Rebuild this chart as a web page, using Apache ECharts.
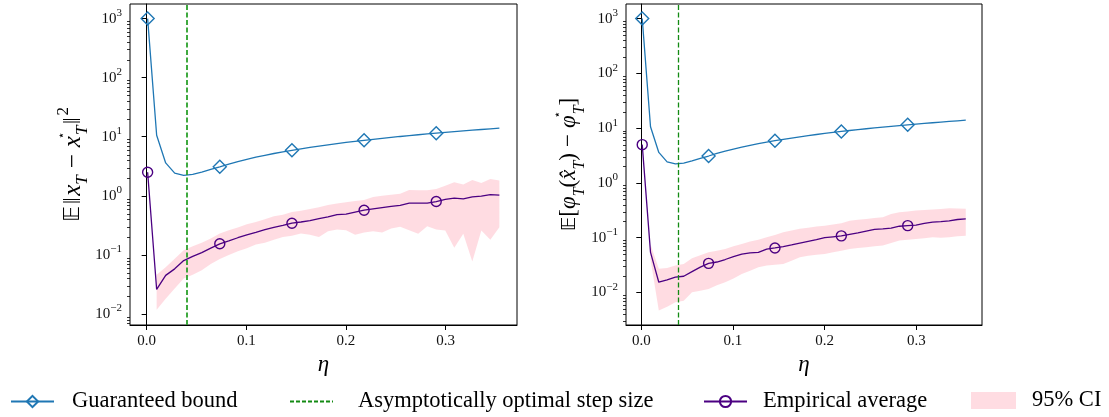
<!DOCTYPE html>
<html><head><meta charset="utf-8">
<script src="https://cdn.jsdelivr.net/npm/echarts@6/dist/echarts.min.js"></script>
<style>html,body{margin:0;padding:0;background:#fff}#c{width:1109px;height:417px}</style>
</head><body><div id="c"></div><script>
// ---- data ----
const eta = [0.001, 0.01005, 0.0191, 0.02815, 0.0372, 0.04626, 0.05531, 0.06436, 0.07341, 0.08246,
  0.09151, 0.10056, 0.10962, 0.11867, 0.12772, 0.13677, 0.14582, 0.15487, 0.16392, 0.17297,
  0.18203, 0.19108, 0.20013, 0.20918, 0.21823, 0.22728, 0.23633, 0.24538, 0.25444, 0.26349,
  0.27254, 0.28159, 0.29064, 0.29969, 0.30874, 0.31779, 0.32685, 0.3359, 0.34495, 0.354];
const boundVals = [1000, 10.6, 3.6, 2.42, 2.22, 2.3, 2.52, 2.8, 3.1, 3.45,
  3.8, 4.15, 4.5, 4.85, 5.2, 5.55, 5.9, 6.25, 6.6, 6.95,
  7.3, 7.65, 8.0, 8.35, 8.7, 9.05, 9.4, 9.75, 10.1, 10.45,
  10.8, 11.15, 11.5, 11.85, 12.2, 12.55, 12.9, 13.25, 13.6, 13.95];
const empLeft = [2.5, 0.026, 0.045, 0.058, 0.080, 0.094, 0.109, 0.130, 0.154, 0.172,
  0.195, 0.218, 0.240, 0.268, 0.292, 0.315, 0.344, 0.36, 0.38, 0.41,
  0.44, 0.48, 0.49, 0.53, 0.571, 0.60, 0.63, 0.66, 0.69, 0.75,
  0.75, 0.75, 0.80, 0.87, 0.91, 0.89, 0.96, 0.99, 1.05, 1.03];
const ciHighLeft = [null, 0.046, 0.062, 0.086, 0.12, 0.14, 0.16, 0.19, 0.23, 0.26,
  0.29, 0.33, 0.36, 0.40, 0.45, 0.48, 0.53, 0.56, 0.60, 0.64,
  0.70, 0.74, 0.78, 0.82, 0.85, 0.95, 1.0, 1.04, 1.08, 1.26,
  1.24, 1.24, 1.31, 1.48, 1.70, 1.55, 1.86, 1.65, 1.93, 1.81];
const ciLowLeft = [null, 0.0118, 0.018, 0.027, 0.040, 0.046, 0.055, 0.070, 0.085, 0.10,
  0.115, 0.13, 0.15, 0.16, 0.18, 0.20, 0.21, 0.23, 0.22, 0.20,
  0.25, 0.27, 0.26, 0.22, 0.24, 0.25, 0.24, 0.28, 0.30, 0.26,
  0.227, 0.306, 0.27, 0.258, 0.132, 0.227, 0.077, 0.258, 0.18, 0.294];
const empRight = [5.0, 0.054, 0.0154, 0.017, 0.019, 0.0198, 0.024, 0.029, 0.034, 0.036,
  0.040, 0.045, 0.050, 0.053, 0.054, 0.062, 0.065, 0.069, 0.074, 0.080,
  0.086, 0.092, 0.100, 0.104, 0.108, 0.115, 0.122, 0.132, 0.142, 0.145,
  0.150, 0.162, 0.166, 0.170, 0.183, 0.193, 0.197, 0.203, 0.215, 0.220];
const ciHighRight = [null, 0.075, 0.027, 0.028, 0.031, 0.033, 0.042, 0.048, 0.054, 0.058,
  0.0625, 0.07, 0.077, 0.085, 0.092, 0.102, 0.112, 0.126, 0.135, 0.145,
  0.152, 0.16, 0.166, 0.175, 0.184, 0.205, 0.212, 0.22, 0.228, 0.237,
  0.27, 0.292, 0.30, 0.313, 0.32, 0.326, 0.335, 0.345, 0.34, 0.336];
const ciLowRight = [null, 0.04, 0.0047, 0.0055, 0.0066, 0.0071, 0.0101, 0.0108, 0.0116, 0.0135,
  0.0154, 0.018, 0.0218, 0.025, 0.029, 0.031, 0.032, 0.033, 0.038, 0.044,
  0.047, 0.049, 0.0506, 0.054, 0.058, 0.0625, 0.065, 0.067, 0.07, 0.072,
  0.08, 0.0885, 0.092, 0.095, 0.098, 0.102, 0.10, 0.102, 0.106, 0.109];
const etaOpt = 0.0374;
const xTicks = [0, 0.1, 0.2, 0.3];
const yTickExps = [-2, -1, 0, 1, 2, 3];
const MARK_EVERY = 8;
const names = ['Guaranteed bound', 'Asymptotically optimal step size', 'Empirical average', '95% CI'];

// ---- style ----
const BLUE = '#1f77b4', PURPLE = '#4b0082', PINK = 'rgba(255,192,203,0.55)', GREEN = '#2ca02c';
const SERIF = "'Liberation Serif','DejaVu Serif',serif";
const MATHF = "'DejaVu Sans','DejaVu Serif',sans-serif";
const XMIN = -0.0167, XMAX = 0.3717;

const majors = yTickExps.map(e => Math.pow(10, e));
function minors(lo, hi) {
  const out = [];
  for (let e = -4; e <= 4; e++) for (let m = 2; m <= 9; m++) {
    const v = m * Math.pow(10, e);
    if (v > lo && v < hi) out.push(v);
  }
  return out;
}
function makeRich(fs, subFs, bbFs, opPad) {
  return {
    bb: { fontFamily: MATHF, fontSize: bbFs, lineHeight: 36, color: '#000' },
    n: { fontFamily: SERIF, fontSize: fs, lineHeight: 36, color: '#000' },
    dv: { fontFamily: SERIF, fontSize: fs, lineHeight: 36, padding: [0, 1.5, 0, 1.5], color: '#000' },
    op: { fontFamily: SERIF, fontSize: fs, lineHeight: 36, padding: [0, opPad, 0, opPad], color: '#000' },
    i: { fontFamily: SERIF, fontStyle: 'italic', fontSize: fs, lineHeight: 36, color: '#000' },
    sub: { fontFamily: SERIF, fontStyle: 'italic', fontSize: subFs, lineHeight: 22, verticalAlign: 'bottom', color: '#000' },
    sup: { fontFamily: SERIF, fontSize: subFs, lineHeight: 19, verticalAlign: 'top', color: '#000' },
    st: { fontFamily: MATHF, fontSize: 12, lineHeight: 24, verticalAlign: 'top', width: 1, color: '#000' }
  };
}
const panels = [
  { left: 130, width: 387, ymin: 0.0065, ymax: 1766, emp: empLeft, lo: ciLowLeft, hi: ciHighLeft,
    green: GREEN, greenW: 1.8, nameGap: 38, rich: makeRich(25, 17, 22, 7),
    yname: '{bb|𝔼}{dv|‖}{i|x}{sub|T}{op|−}{i|x}{st|⋆}{sub|T}{dv|‖}{sup|2}' },
  { left: 626, width: 356, ymin: 0.00255, ymax: 1845, emp: empRight, lo: ciLowRight, hi: ciHighRight,
    green: '#138a13', greenW: 1.3, nameGap: 33, rich: makeRich(23, 16, 20, 6),
    yname: '{bb|𝔼}{n|[}{i|φ}{sub|T}{n|(}{i|x̂}{sub|T}{n|)}{op|−}{i|φ}{st|⋆}{sub|T}{n|]}' }
];

const grid = [], xAxis = [], yAxis = [], series = [];
panels.forEach((p, k) => {
  grid.push({ left: p.left, top: 4, width: p.width, height: 321, show: true, borderColor: '#000', borderWidth: 1, backgroundColor: 'transparent' });
  xAxis.push({
    gridIndex: k, type: 'value', min: XMIN, max: XMAX,
    axisLine: { show: true, onZero: false, lineStyle: { color: '#000', width: 1 } },
    axisTick: { show: true, customValues: xTicks, length: 5, lineStyle: { color: '#000', width: 1 } },
    axisLabel: { customValues: xTicks, formatter: v => v.toFixed(1), margin: 9, fontSize: 15, fontFamily: SERIF, color: '#111' },
    splitLine: { show: false },
    name: 'η', nameLocation: 'middle', nameGap: 22,
    nameTextStyle: { fontSize: 23, fontStyle: 'italic', fontFamily: SERIF, color: '#000' }
  });
  yAxis.push({
    gridIndex: k, type: 'log', logBase: 10, min: p.ymin, max: p.ymax,
    axisLine: { show: true, lineStyle: { color: '#000', width: 1 } },
    axisTick: { show: true, customValues: majors, length: 5, lineStyle: { color: '#000', width: 1 } },
    axisLabel: {
      customValues: majors, margin: 8,
      formatter: v => { const e = Math.round(Math.log10(v)); return '{b|10}{s|' + (e < 0 ? '−' + (-e) : e) + '}'; },
      rich: {
        b: { fontSize: 15, fontFamily: SERIF, lineHeight: 22, color: '#111' },
        s: { fontSize: 11, fontFamily: SERIF, lineHeight: 11, verticalAlign: 'top', color: '#111' }
      }
    },
    splitLine: { show: false }, minorTick: { show: false },
    name: p.yname, nameLocation: 'middle', nameRotate: 90, nameGap: p.nameGap,
    nameTextStyle: { rich: p.rich, fontFamily: SERIF, fontSize: 23, color: '#000' }
  });
  // minor log ticks on the left spine, placed through the axis scale
  series.push({
    type: 'custom', xAxisIndex: k, yAxisIndex: k, silent: true, z: 5, clip: false,
    data: minors(p.ymin, p.ymax).map(v => [XMIN, v]),
    encode: { x: 0, y: 1 },
    renderItem: (params, api) => {
      const c = api.coord([api.value(0), api.value(1)]);
      const y = Math.round(c[1]) + 0.5;
      return { type: 'line', shape: { x1: c[0] - 3, y1: y, x2: c[0], y2: y }, style: { stroke: '#000', lineWidth: 0.8 } };
    }
  });
  // CI band
  series.push({
    type: 'custom', name: '95% CI', xAxisIndex: k, yAxisIndex: k, z: 1, silent: true,
    itemStyle: { color: PINK },
    data: eta.map((x, i) => [x, p.lo[i], p.hi[i]]).filter(d => d[1] != null),
    encode: { x: 0, y: [1, 2] },
    renderItem: (params, api) => {
      if (params.dataIndex !== 0) return null;
      const pts = [];
      for (let i = 0; i < eta.length; i++) if (p.hi[i] != null) pts.push(api.coord([eta[i], p.hi[i]]));
      for (let i = eta.length - 1; i >= 0; i--) if (p.lo[i] != null) pts.push(api.coord([eta[i], p.lo[i]]));
      return { type: 'polygon', shape: { points: pts }, style: { fill: PINK } };
    }
  });
  // Guaranteed bound
  series.push({
    type: 'line', name: names[0], xAxisIndex: k, yAxisIndex: k, z: 3,
    symbol: 'diamond', symbolSize: 13, showSymbol: true, showAllSymbol: true,
    itemStyle: { color: 'rgba(255,255,255,0)', borderColor: BLUE, borderWidth: 1.4 },
    lineStyle: { color: BLUE, width: 1.3 },
    data: eta.map((x, i) => i % MARK_EVERY === 0 ? [x, boundVals[i]] : { value: [x, boundVals[i]], symbol: 'none' }),
    markLine: {
      silent: true, symbol: ['none', 'none'], label: { show: false },
      lineStyle: { color: p.green, type: [5, 2.5], width: p.greenW },
      data: [{ xAxis: etaOpt }]
    }
  });
  // Empirical average
  series.push({
    type: 'line', name: names[2], xAxisIndex: k, yAxisIndex: k, z: 4,
    symbol: 'circle', symbolSize: 10, showSymbol: true, showAllSymbol: true,
    itemStyle: { color: 'rgba(255,255,255,0)', borderColor: PURPLE, borderWidth: 1.4 },
    lineStyle: { color: PURPLE, width: 1.3 },
    data: eta.map((x, i) => i % MARK_EVERY === 0 ? [x, p.emp[i]] : { value: [x, p.emp[i]], symbol: 'none' })
  });
});
// legend-only series for the dashed line
series.push({
  type: 'line', name: names[1], xAxisIndex: 1, yAxisIndex: 1, symbol: 'none', data: [],
  itemStyle: { color: '#138a13' },
  lineStyle: { color: '#138a13', type: [4, 2], width: 1.2 }
});

const legTxt = (pad) => ({ fontFamily: SERIF, fontSize: 22.5, color: '#000', padding: [0, 0, 0, pad] });
const legBase = { top: 390, padding: 0, itemWidth: 43, itemHeight: 14, selectedMode: false };
const legend = [
  Object.assign({}, legBase, { data: [names[0]], left: 10, textStyle: legTxt(13) }),
  Object.assign({}, legBase, { data: [names[1]], left: 289, textStyle: legTxt(20),
    itemStyle: { color: 'rgba(0,0,0,0)', borderWidth: 0, opacity: 0 } }),
  Object.assign({}, legBase, { data: [names[2]], left: 703, textStyle: legTxt(11) }),
  Object.assign({}, legBase, { data: [{ name: names[3], icon: 'rect' }], left: 971, top: 389, itemWidth: 45, itemHeight: 17, textStyle: legTxt(11) })
];

const chart = echarts.init(document.getElementById('c'), null, { renderer: 'canvas' });
chart.setOption({ animation: false, backgroundColor: '#fff', textStyle: { fontFamily: SERIF }, grid, xAxis, yAxis, series, legend });
</script></body></html>
